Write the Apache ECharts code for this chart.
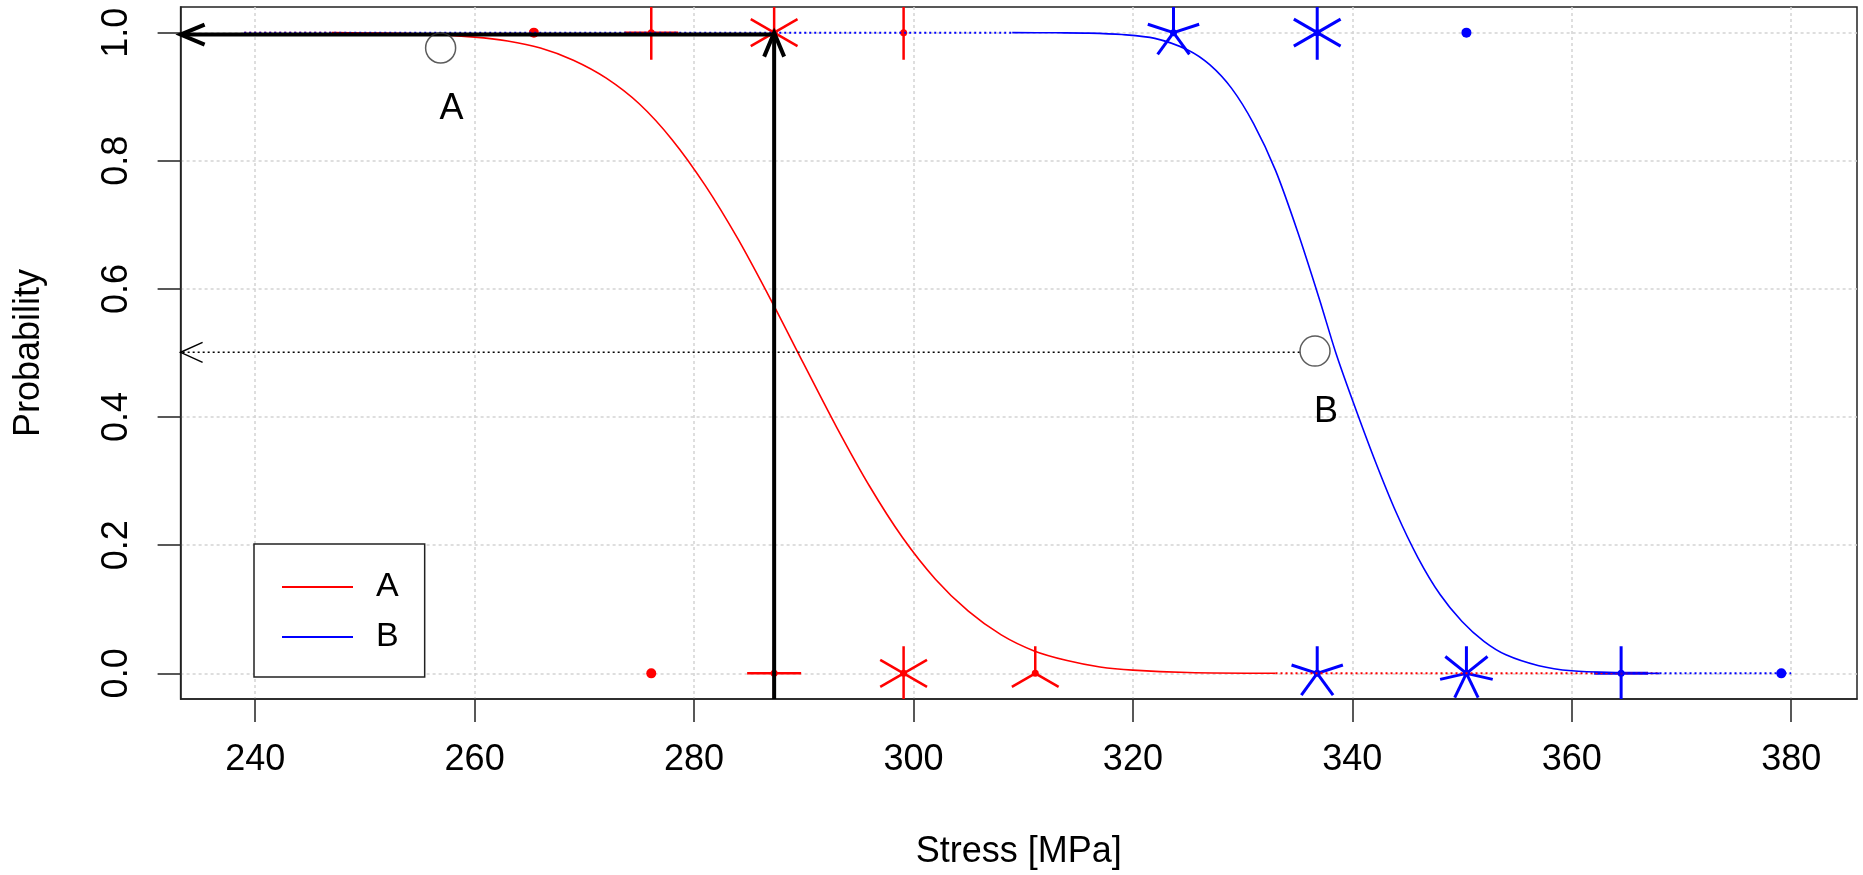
<!DOCTYPE html>
<html><head><meta charset="utf-8">
<script src="https://cdn.jsdelivr.net/npm/echarts@6/dist/echarts.min.js"></script>
<style>html,body{margin:0;padding:0;background:#fff}#c{width:1863px;height:875px}</style>
</head><body><div id="c"></div>
<script>
// ---- data ----
const xTicks = [240, 260, 280, 300, 320, 340, 360, 380];
const yTicks = [0, 0.2, 0.4, 0.6, 0.8, 1.0];

// fitted curve A (red), solid part
const redCurveX = [247, 250, 255, 260, 263, 266, 269, 272, 275, 278, 281, 284, 287, 290, 293, 296, 299, 302, 305, 308, 311, 314, 317, 320, 325, 333];
const redCurveP = [1.000, 0.9995, 0.998, 0.993, 0.987, 0.976, 0.957, 0.929, 0.889, 0.833, 0.762, 0.678, 0.583, 0.483, 0.384, 0.292, 0.212, 0.147, 0.097, 0.060, 0.035, 0.020, 0.010, 0.005, 0.0014, 0.0001];
// dotted extensions of A
const redDotTopX = [239, 247];
const redDotTopP = [1, 1];
const redDotLowX = [333, 368];
const redDotLowP = [0, 0];

// fitted curve B (blue), solid part
const blueCurveX = [309, 313, 316, 319, 322, 325, 327, 329, 331, 333, 335, 337, 338.5, 340, 342, 344, 346, 348, 350, 352, 354, 357, 360, 364, 368];
const blueCurveP = [1.000, 0.9997, 0.9993, 0.997, 0.991, 0.973, 0.950, 0.913, 0.858, 0.785, 0.690, 0.584, 0.500, 0.427, 0.335, 0.251, 0.180, 0.123, 0.081, 0.050, 0.029, 0.012, 0.004, 0.001, 0.0];
// dotted extensions of B
const blueDotTopX = [239, 309];
const blueDotTopP = [1, 1];
const blueDotLowX = [368, 380];
const blueDotLowP = [0, 0];

// sunflower points: stress, outcome, multiplicity
const redSunX = [265.4, 276.1, 287.3, 299.1, 276.1, 287.3, 299.1, 311.1];
const redSunY = [1, 1, 1, 1, 0, 0, 0, 0];
const redSunN = [1, 4, 6, 2, 1, 4, 6, 3];
const blueSunX = [323.7, 336.8, 350.4, 336.8, 350.4, 364.5, 379.1];
const blueSunY = [1, 1, 1, 0, 0, 0, 0];
const blueSunN = [5, 6, 1, 5, 7, 4, 1];

// annotation circles and labels
const annotX = [256.9, 336.6];
const annotP = [0.976, 0.503];
const annotText = ['A', 'B'];

// arrows: x0, y0, x1 (tip), y1 (tip)
const thickArrows = [[287.3, -0.04, 287.3, 1.0], [287.3, 0.997, 233.2, 0.997]];
const dottedArrows = [[335.2, 0.501, 233.2, 0.501]];

// ---- chart ----
const FONT = 'Liberation Sans, Arial, sans-serif';
const zip = (a, b) => a.map((v, i) => [v, b[i]]);

function sunflower(color, lw) {
  return function (params, api) {
    const c = api.coord([api.value(0), api.value(1)]);
    const n = api.value(2);
    const L = 27;
    const children = [];
    if (n > 1) {
      for (let k = 0; k < n; k++) {
        const a = Math.PI / 2 + 2 * Math.PI * k / n;
        children.push({type: 'line', shape: {x1: c[0], y1: c[1], x2: c[0] + L * Math.cos(a), y2: c[1] - L * Math.sin(a)},
          style: {stroke: color, lineWidth: lw, lineCap: 'butt'}});
      }
    }
    children.push({type: 'circle', shape: {cx: c[0], cy: c[1], r: n > 1 ? 3.5 : 5}, style: {fill: color}});
    const cs = params.coordSys;
    return {type: 'group', children,
      clipPath: {type: 'rect', shape: {x: cs.x, y: cs.y, width: cs.width, height: cs.height}}};
  };
}

function arrow(dash, lw, headLen, headW) {
  return function (params, api) {
    const p0 = api.coord([api.value(0), api.value(1)]);
    const p1 = api.coord([api.value(2), api.value(3)]);
    const dx = p1[0] - p0[0], dy = p1[1] - p0[1];
    const len = Math.hypot(dx, dy);
    const ux = dx / len, uy = dy / len, nx = -uy, ny = ux;
    const a = [p1[0] - headLen * ux + headW * nx, p1[1] - headLen * uy + headW * ny];
    const b = [p1[0] - headLen * ux - headW * nx, p1[1] - headLen * uy - headW * ny];
    return {type: 'group', children: [
      {type: 'line', shape: {x1: p0[0], y1: p0[1], x2: p1[0], y2: p1[1]},
        style: {stroke: '#000', lineWidth: lw, lineDash: dash}},
      {type: 'polyline', shape: {points: [a, p1, b]},
        style: {stroke: '#000', lineWidth: lw, fill: null}}
    ]};
  };
}

const chart = echarts.init(document.getElementById('c'), null, {renderer: 'canvas'});
chart.setOption({
  animation: false,
  backgroundColor: '#fff',
  textStyle: {fontFamily: FONT},
  grid: {left: 180.6, top: 7, width: 1676.4, height: 692, show: true, borderColor: '#222', borderWidth: 1.5, backgroundColor: 'transparent'},
  legend: {
    show: true, orient: 'vertical', left: 254, top: 544,
    icon: 'rect', itemWidth: 71, itemHeight: 2, itemGap: 14,
    padding: [25, 26, 22, 28],
    borderColor: '#222', borderWidth: 1.5, borderRadius: 0,
    backgroundColor: '#fff', selectedMode: false,
    textStyle: {fontSize: 34, color: '#000', fontFamily: FONT, padding: [0, 0, 0, 18], lineHeight: 36},
    data: ['A', 'B']
  },
  xAxis: {
    type: 'value', min: 233.2, max: 386.0, splitNumber: 8,
    axisLine: {show: true, onZero: false, lineStyle: {color: '#222', width: 1.5}},
    axisTick: {show: true, inside: false, length: 23, customValues: xTicks, lineStyle: {color: '#222', width: 1.5}},
    axisLabel: {customValues: xTicks, margin: 43, fontSize: 36, color: '#000', fontFamily: FONT},
    splitLine: {show: true, lineStyle: {color: '#d3d3d3', width: 1.5, type: [3, 3]}},
    name: 'Stress [MPa]', nameLocation: 'middle', nameGap: 135,
    nameTextStyle: {fontSize: 36, color: '#000', fontFamily: FONT}
  },
  yAxis: {
    type: 'value', min: -0.04, max: 1.04, splitNumber: 5,
    axisLine: {show: true, onZero: false, lineStyle: {color: '#222', width: 1.5}},
    axisTick: {show: true, inside: false, length: 23, customValues: yTicks, lineStyle: {color: '#222', width: 1.5}},
    axisLabel: {customValues: yTicks, rotate: 90, margin: 46, fontSize: 36, color: '#000', fontFamily: FONT,
      formatter: v => Number(v).toFixed(1)},
    splitLine: {show: true, lineStyle: {color: '#d3d3d3', width: 1.5, type: [3, 3]}},
    name: 'Probability', nameLocation: 'middle', nameRotate: 90, nameGap: 134,
    nameTextStyle: {fontSize: 36, color: '#000', fontFamily: FONT}
  },
  series: [
    {type: 'custom', name: 'sunA', renderItem: sunflower('#ff0000', 2.5), encode: {x: 0, y: 1},
      data: redSunX.map((x, i) => [x, redSunY[i], redSunN[i]]), z: 2},
    {type: 'custom', name: 'sunB', renderItem: sunflower('#0000ff', 3), encode: {x: 0, y: 1},
      data: blueSunX.map((x, i) => [x, blueSunY[i], blueSunN[i]]), z: 2},
    {type: 'line', name: 'A', data: zip(redCurveX, redCurveP), symbol: 'none', smooth: 0.3,
      lineStyle: {color: '#ff0000', width: 1.6}, itemStyle: {color: '#ff0000'}, z: 3},
    {type: 'line', name: 'redDotTop', data: zip(redDotTopX, redDotTopP), symbol: 'none',
      lineStyle: {color: '#ff0000', width: 2, type: [2, 3]}, z: 3},
    {type: 'line', name: 'redDotLow', data: zip(redDotLowX, redDotLowP), symbol: 'none',
      lineStyle: {color: '#ff0000', width: 2, type: [2, 3]}, z: 3},
    {type: 'line', name: 'B', data: zip(blueCurveX, blueCurveP), symbol: 'none', smooth: 0.3,
      lineStyle: {color: '#0000ff', width: 1.6}, itemStyle: {color: '#0000ff'}, z: 3},
    {type: 'line', name: 'blueDotTop', data: zip(blueDotTopX, blueDotTopP), symbol: 'none',
      lineStyle: {color: '#0000ff', width: 2, type: [2, 3]}, z: 3},
    {type: 'line', name: 'blueDotLow', data: zip(blueDotLowX, blueDotLowP), symbol: 'none',
      lineStyle: {color: '#0000ff', width: 2, type: [2, 3]}, z: 3},
    {type: 'custom', name: 'thickArrows', renderItem: arrow(null, 4, 24, 10), encode: {x: [0, 2], y: [1, 3]},
      data: thickArrows, z: 4},
    {type: 'custom', name: 'dottedArrows', renderItem: arrow([2, 3], 1.5, 22, 10), encode: {x: [0, 2], y: [1, 3]},
      data: dottedArrows, z: 4},
    {type: 'scatter', name: 'annot', symbol: 'circle', symbolSize: 30,
      itemStyle: {color: 'rgba(255,255,255,0)', borderColor: '#333', borderWidth: 1.5},
      label: {show: true, position: 'bottom', distance: 27, offset: [11, 0], fontSize: 36, color: '#000', opacity: 1,
        textBorderWidth: 0, fontFamily: FONT, formatter: p => p.name},
      emphasis: {disabled: true},
      data: annotX.map((x, i) => ({name: annotText[i], value: [x, annotP[i]]})), z: 5}
  ]
});
</script>
</body></html>
